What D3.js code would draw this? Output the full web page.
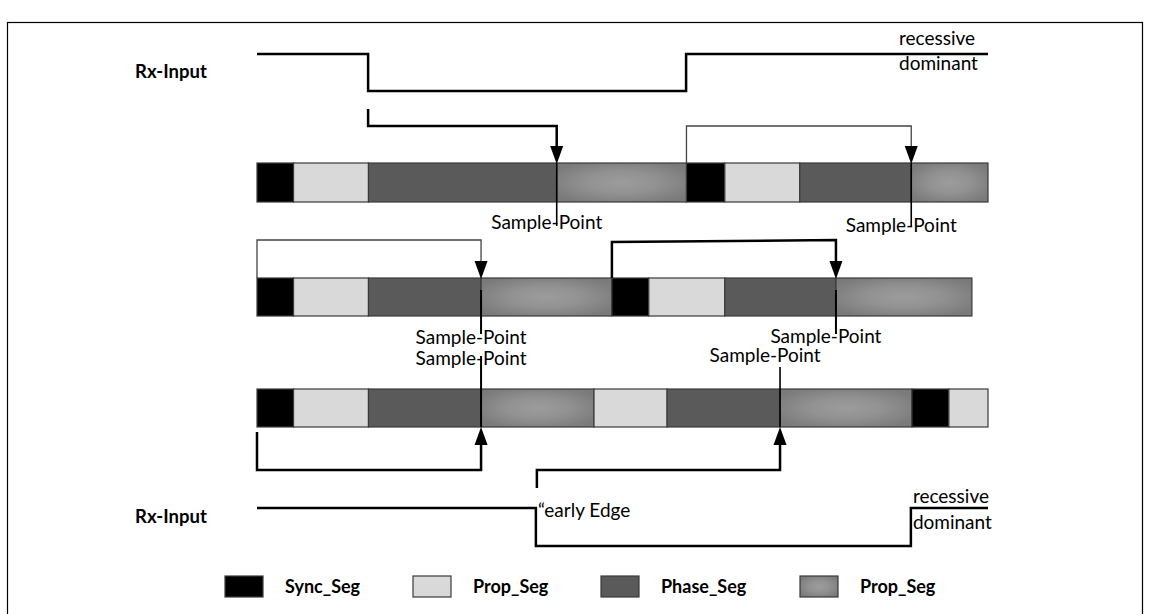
<!DOCTYPE html>
<html><head><meta charset="utf-8">
<script src="https://cdn.jsdelivr.net/npm/d3@7"></script>
<style>html,body{margin:0;padding:0;background:#fff;}svg{display:block;}</style>
</head><body>
<script>
// ---- data (time in bit-timing units) ----
const segTypes = ["sync", "prop", "phase", "phase2"];
const legendLabels = ["Sync_Seg", "Prop_Seg", "Phase_Seg", "Prop_Seg"];
const row1Bounds = [0, 1, 3.05, 8.2, 11.75, 12.8, 14.85, 17.9, 20];
const row1Types  = ["sync","prop","phase","phase2","sync","prop","phase","phase2"];
const row2Bounds = [0, 1, 3.05, 6.13, 9.71, 10.72, 12.8, 15.84, 19.56];
const row2Types  = ["sync","prop","phase","phase2","sync","prop","phase","phase2"];
const row3Bounds = [0, 1, 3.05, 6.13, 9.22, 11.22, 14.31, 17.92, 18.93, 20];
const row3Types  = ["sync","prop","phase","phase2","prop","phase","phase2","sync","prop"];
const rxTopEdges = [3.04, 11.74];     // falling, rising
const rxBotEdges = [7.63, 17.89];     // falling (early edge), rising
const samplePoints1 = [8.2, 17.9];
const samplePoints2 = [6.13, 15.84];
const samplePoints3 = [6.13, 14.31];
const timeDomain = [0, 20];

const W = 1150, H = 614;
const svg = d3.select("body").append("svg").attr("width", W).attr("height", H)
  .style("font-family", "Lato, 'Open Sans', sans-serif");

const x = d3.scaleLinear().domain(timeDomain).range([257, 988]);

const fills = {sync: "#000000", prop: "#d9d9d9", phase: "#5a5a5a", phase2: "url(#g2)"};
const defs = svg.append("defs");
const rg = defs.append("radialGradient").attr("id", "g2").attr("cx", "50%").attr("cy", "50%").attr("r", "60%");
rg.append("stop").attr("offset", "0%").attr("stop-color", "#9c9c9c");
rg.append("stop").attr("offset", "45%").attr("stop-color", "#929292");
rg.append("stop").attr("offset", "100%").attr("stop-color", "#7a7a7a");

// frame
svg.append("rect").attr("x", 7.5).attr("y", 22.5).attr("width", 1135).attr("height", 620)
  .attr("fill", "none").attr("stroke", "#000").attr("stroke-width", 1.2);

function drawRow(bounds, types, y0, h) {
  const segs = types.map((t, i) => ({t, a: bounds[i], b: bounds[i + 1]}));
  svg.append("g").selectAll("rect").data(segs).join("rect")
    .attr("x", d => x(d.a)).attr("y", y0)
    .attr("width", d => x(d.b) - x(d.a)).attr("height", h)
    .attr("fill", d => fills[d.t]).attr("stroke", "#3a3a3a").attr("stroke-width", 1.2);
}
drawRow(row1Bounds, row1Types, 163, 39);
drawRow(row2Bounds, row2Types, 278, 38);
drawRow(row3Bounds, row3Types, 389, 38);

const line = d3.line();
function path(pts, w, col) {
  svg.append("path").attr("d", line(pts)).attr("fill", "none")
    .attr("stroke", col || "#000").attr("stroke-width", w).attr("stroke-linejoin", "miter");
}
function arrowHead(px, tipY, dir) { // dir: 1 pointing down, -1 pointing up
  const hw = 6.5, hl = 18;
  svg.append("path").attr("d", line([[px - hw, tipY - dir * hl], [px + hw, tipY - dir * hl], [px, tipY]]) + "Z")
    .attr("fill", "#000");
}
function label(tx, ty, s, opts) {
  opts = opts || {};
  svg.append("text").attr("x", tx).attr("y", ty).attr("font-size", opts.size || 19)
    .attr("font-weight", opts.bold ? "bold" : "normal")
    .attr("text-anchor", opts.anchor || "start").attr("fill", "#000").text(s);
}

// Rx-Input top
const yHiT = 54, yLoT = 91;
path([[x(0), yHiT], [x(rxTopEdges[0]), yHiT], [x(rxTopEdges[0]), yLoT], [x(rxTopEdges[1]), yLoT], [x(rxTopEdges[1]), yHiT], [x(20), yHiT]], 2.5);
label(135, 78, "Rx-Input", {bold: true, size: 18.5});
label(899, 45, "recessive");
label(899, 70, "dominant");

// arrows row 1
path([[x(rxTopEdges[0]), 109], [x(rxTopEdges[0]), 126], [x(samplePoints1[0]), 126], [x(samplePoints1[0]), 150]], 2.5);
arrowHead(x(samplePoints1[0]), 164, 1);
path([[x(row1Bounds[4]), 163], [x(row1Bounds[4]), 126], [x(samplePoints1[1]), 126], [x(samplePoints1[1]), 150]], 1.3, "#444");
arrowHead(x(samplePoints1[1]), 164, 1);

// sample lines row 1
samplePoints1.forEach(s => path([[x(s), 163], [x(s), 226]], 1.6));
label(x(samplePoints1[0]) - 10, 229, "Sample-Point", {anchor: "middle"});
label(x(samplePoints1[1]) - 10, 232, "Sample-Point", {anchor: "middle"});

// row 2 brackets
path([[x(0), 278], [x(0), 240], [x(samplePoints2[0]), 240], [x(samplePoints2[0]), 265]], 1.3, "#444");
arrowHead(x(samplePoints2[0]), 279, 1);
path([[x(row2Bounds[4]), 278], [x(row2Bounds[4]), 242], [x(samplePoints2[1]), 240], [x(samplePoints2[1]), 265]], 2.5);
arrowHead(x(samplePoints2[1]), 279, 1);
samplePoints2.forEach(s => path([[x(s), 290], [x(s), 334]], 2));
label(x(samplePoints2[0]) - 10, 344, "Sample-Point", {anchor: "middle"});
label(x(samplePoints2[1]) - 10, 343, "Sample-Point", {anchor: "middle"});

// row 3 sample lines
path([[x(samplePoints3[0]), 356], [x(samplePoints3[0]), 427]], 2);
path([[x(samplePoints3[1]), 367], [x(samplePoints3[1]), 427]], 1.6);
label(x(samplePoints3[0]) - 10, 365, "Sample-Point", {anchor: "middle"});
label(x(samplePoints3[1]) - 15, 362, "Sample-Point", {anchor: "middle"});

// row 3 brackets (below)
path([[x(0), 432], [x(0), 470], [x(samplePoints3[0]), 470], [x(samplePoints3[0]), 440]], 2.5);
arrowHead(x(samplePoints3[0]), 427, -1);
path([[x(rxBotEdges[0]) + 1, 488], [x(rxBotEdges[0]) + 1, 470], [x(samplePoints3[1]), 470], [x(samplePoints3[1]), 440]], 2.5);
arrowHead(x(samplePoints3[1]), 427, -1);

// Rx-Input bottom
const yHiB = 508, yLoB = 546;
path([[x(0), yHiB], [x(rxBotEdges[0]), yHiB], [x(rxBotEdges[0]), yLoB], [x(rxBotEdges[1]), yLoB], [x(rxBotEdges[1]), yHiB], [x(20), yHiB]], 2.5);
label(135, 523, "Rx-Input", {bold: true, size: 18.5});
label(x(rxBotEdges[0]) + 2, 517, "\u201Cearly Edge");
label(x(rxBotEdges[1]) + 2, 503, "recessive");
label(x(rxBotEdges[1]) + 2, 529, "dominant");

// legend
const legX = [225, 413, 601, 800];
const lg = svg.append("g").selectAll("g").data(segTypes).join("g")
  .attr("transform", (d, i) => `translate(${legX[i]},576)`);
lg.append("rect").attr("width", 38).attr("height", 21).attr("fill", d => fills[d])
  .attr("stroke", "#3a3a3a").attr("stroke-width", 1.2);
lg.append("text").attr("x", 60).attr("y", 17).attr("font-weight", "bold").attr("font-size", 18)
  .text((d, i) => legendLabels[i]);
</script>
</body></html>
